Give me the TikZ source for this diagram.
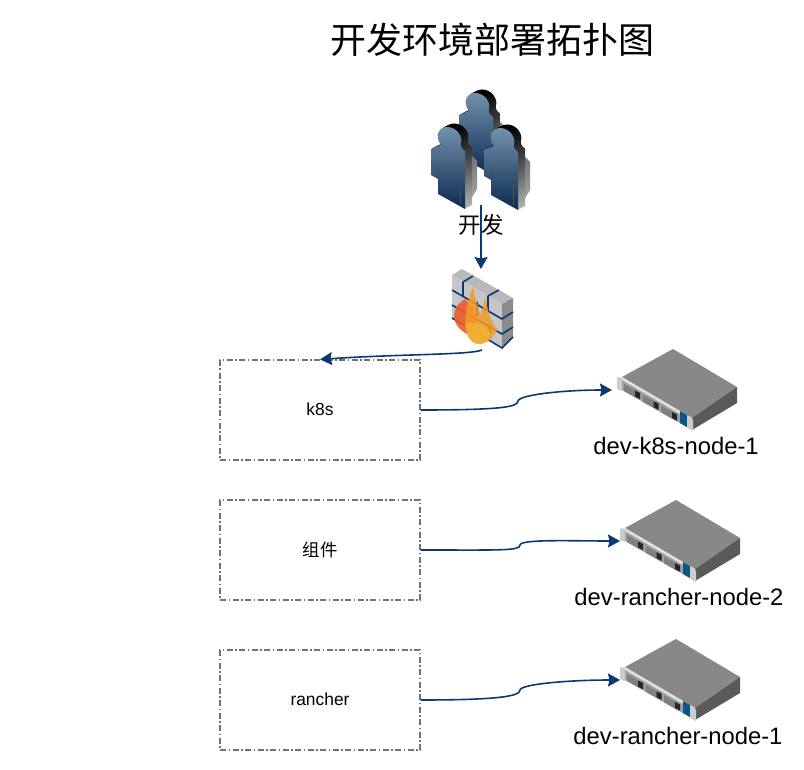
\documentclass[tikz,border=0pt]{standalone}
\usepackage{fontspec}
\setmainfont{Liberation Sans}
\newfontfamily\cjk{Noto Sans CJK SC}
\usetikzlibrary{arrows.meta}
\definecolor{linkblue}{HTML}{0B3A72}
\definecolor{bodytop}{HTML}{7390AC}
\definecolor{bodylow}{HTML}{0A2A50}
\definecolor{flamered}{HTML}{EE5A2A}
\definecolor{flameorange}{HTML}{F59A24}
\definecolor{flameyellow}{HTML}{F0B432}
\definecolor{srvtop}{HTML}{888888}
\definecolor{srvside}{HTML}{5A5A5A}
\definecolor{srvfront}{HTML}{A0A0A0}
% silhouette of one person, head centre at (0,0)
\newcommand{\personpath}{(-19,7) -- (-9,3) .. controls (-16,-6) and (-11,-15) .. (-3,-15)
  .. controls (7,-15) and (13,-5) .. (11,1) .. controls (10,4) and (12,7) .. (15,9) -- (15,67) -- (-12,52)
  -- (-12,37) -- (-19,33) -- cycle}
\tikzset{
  person/.pic={
    \path[shade,top color=gray!80!black,bottom color=gray!60] (10,2) -- (27,19) -- (27,47) -- (15,67) -- cycle;
    \foreach \d in {7,6,...,1}
      \path[shade,top color=black,middle color=gray!90!black,bottom color=gray!60,shift={(\d,-0.5*\d)}] \personpath;
    \path[shade,top color=bodytop,bottom color=bodylow] \personpath;
    \draw[black!70,line width=.7pt] (-12,22) -- (-12,37) (10,40) -- (10,62);
  },
  server/.pic={
    \fill[srvtop] (0,0) -- (51,-28) -- (115,10) -- (70,41) -- cycle;
    \fill[srvside] (70,41) -- (115,10) -- (115,26) -- (70,53) -- cycle;
    \fill[srvfront] (0,0) -- (70,41) -- (70,53) -- (0,13) -- cycle;
    \fill[gray!25] (0,0) -- (70,41) -- (70,44) -- (0,3) -- cycle;
    \foreach \i in {0,1,2} {
      \fill[gray,shift={(\i*18.5,\i*10.7)}] (2,7) -- (18,16) -- (18,23) -- (2,14) -- cycle;
      \fill[black!85,shift={(\i*18.5,\i*10.7)}] (13,13.5) -- (18,16) -- (18,22) -- (13,19.5) -- cycle;
    }
    \fill[linkblue!85!cyan] (58,34) -- (65,38) -- (65,50) -- (58,46) -- cycle;
    \fill[gray!40] (-5,0) -- (0,1) -- (0,14) -- (-5,12) -- cycle;
    \fill[gray!40] (65,39) -- (71,43) -- (71,54) -- (65,51) -- cycle;
  },
  boxnode/.style={draw=gray!90!black,line width=1.2pt,dash pattern=on 6pt off 2.5pt on 1.5pt off 2.5pt,
    minimum width=200pt,minimum height=100pt,inner sep=0pt,font=\fontsize{17.4}{20}\selectfont},
  namenode/.style={font=\fontsize{23.8}{28}\selectfont,inner sep=0pt},
  link/.style={draw=linkblue,line width=1.6pt,-{Stealth[length=12pt,width=13pt,inset=1.5pt]}},
}
\begin{document}
\begin{tikzpicture}[x=1pt,y=-1pt]
  \useasboundingbox (0,0) rectangle (804,770);
  \node[inner sep=0pt,font=\cjk\fontsize{36}{40}\selectfont] (title) at (492,40) {开发环境部署拓扑图};

  % developers
  \pic at (478,108) {person};
  \pic at (450,142) {person};
  \pic at (503,143) {person};
  \coordinate (devs) at (481,205);
  \node[inner sep=0pt,font=\cjk\fontsize{22.5}{26}\selectfont] (devlabel) at (481,225) {开发};

  % firewall
  \coordinate (walltop) at (481,269);
  \coordinate (wallout) at (482,350);
  \fill[gray!55] (452,275) -- (462,269) -- (513,298) -- (502,304) -- cycle;
  \fill[gray!45] (452,275) -- (502,304) -- (502,348) -- (452,318) -- cycle;
  \fill[gray!90] (502,304) -- (513,298) -- (513,337) -- (502,348) -- cycle;
  \draw[linkblue,line width=1.6pt]
    (452,290) -- (502,319) -- (513,312)
    (452,305) -- (502,334) -- (513,327)
    (452,318) -- (502,348) -- (513,337)
    (463,282) -- (473,276) (463,282) -- (463,296)
    (488,296) -- (499,290) (488,296) -- (488,311)
    (477,302) -- (477,316) (490,325) -- (490,338);
  \fill[flamered,opacity=.9] (465,299) .. controls (450,308) and (450,325) .. (467,334)
    .. controls (478,335) and (480,315) .. (465,299) -- cycle;
  \fill[flameorange,opacity=.85] (473,287) .. controls (475,300) and (480,310) .. (480,316)
    .. controls (483,310) and (484,303) .. (485,297) .. controls (488,310) and (490,322) .. (498,330)
    .. controls (492,335) and (490,345) .. (477,344)
    .. controls (462,340) and (462,315) .. (473,287) -- cycle;
  \fill[flameyellow,opacity=.8] (465,324) .. controls (478,320) and (488,326) .. (491,335)
    .. controls (488,346) and (470,348) .. (465,324) -- cycle;

  \node[boxnode] (k8s) at (320,410) {\raisebox{1pt}{k8s}};
  \node[boxnode] (comp) at (320,550) {\raisebox{1pt}{\cjk 组件}};
  \node[boxnode] (rancher) at (320,700) {\raisebox{1pt}{rancher}};

  \pic at (622,377) {server};
  \pic at (625,528) {server};
  \pic at (625,667) {server};
  \coordinate (srvA) at (612,390);
  \coordinate (srvB) at (620,541);
  \coordinate (srvC) at (620,680);
  \coordinate (midA) at (518,401);
  \coordinate (midB) at (520,545);
  \coordinate (midC) at (520,690);
  \node[namenode] (nameA) at (676,446) {dev-k8s-node-1};
  \node[namenode] (nameB) at (679,597) {dev-rancher-node-2};
  \node[namenode] (nameC) at (678,736) {dev-rancher-node-1};

  \path[link] (devs) -- (walltop);
  \path[link] (wallout) .. controls (470,355) and (400,354) .. (k8s.north);
  \foreach \a/\m/\b in {k8s/midA/srvA,comp/midB/srvB,rancher/midC/srvC}
    \path[link] (\a.east) .. controls +(80,0) and +(0,6) .. (\m) .. controls +(1,-6) and +(-50,0) .. (\b);
\end{tikzpicture}
\end{document}
